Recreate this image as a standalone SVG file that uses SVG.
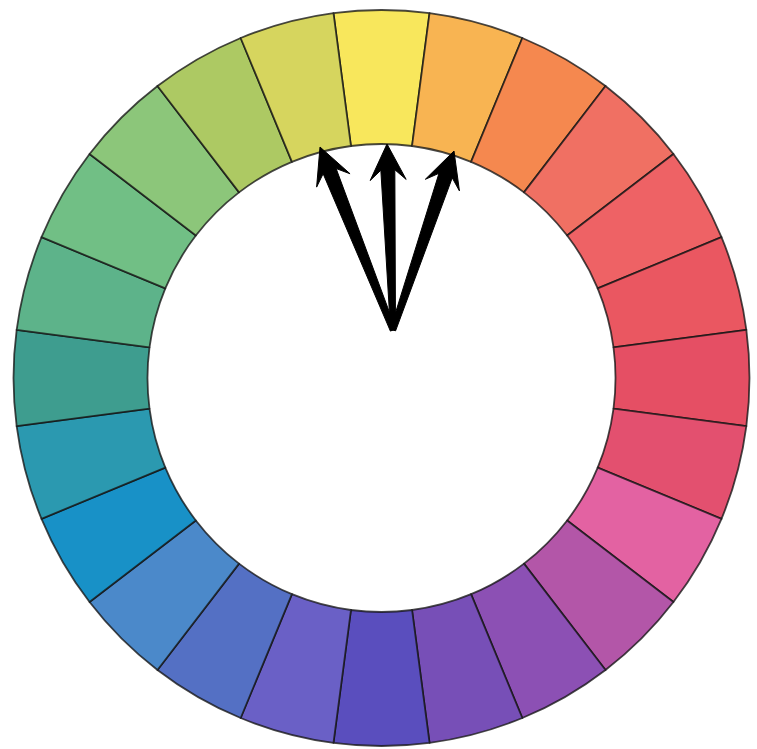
<svg xmlns="http://www.w3.org/2000/svg" width="757" height="749" viewBox="0 0 757 749">
  <style>
    .seg { stroke: #141414; stroke-opacity: 0.78; stroke-width: 1.8; stroke-linejoin: round; }
    .arrow { fill: #000; stroke: #000; stroke-width: 1; stroke-linejoin: miter; }
  </style>
  <defs>
    <path id="wedge" d="M -48.04 -364.85 A 368 368 0 0 1 48.04 -364.85 L 30.54 -232.00 A 234 234 0 0 0 -30.54 -232.00 Z"/>
  </defs>
  <rect width="757" height="749" fill="#ffffff"/>
  <g id="wheel" transform="translate(381.5,378)">
    <g id="seg-00"><use href="#wedge" class="seg" fill="#F8E75C" transform="rotate(0)"/></g>
    <g id="seg-01"><use href="#wedge" class="seg" fill="#F8B452" transform="rotate(15)"/></g>
    <g id="seg-02"><use href="#wedge" class="seg" fill="#F5884F" transform="rotate(30)"/></g>
    <g id="seg-03"><use href="#wedge" class="seg" fill="#F07063" transform="rotate(45)"/></g>
    <g id="seg-04"><use href="#wedge" class="seg" fill="#EE6265" transform="rotate(60)"/></g>
    <g id="seg-05"><use href="#wedge" class="seg" fill="#EA5761" transform="rotate(75)"/></g>
    <g id="seg-06"><use href="#wedge" class="seg" fill="#E54F64" transform="rotate(90)"/></g>
    <g id="seg-07"><use href="#wedge" class="seg" fill="#E3506F" transform="rotate(105)"/></g>
    <g id="seg-08"><use href="#wedge" class="seg" fill="#E362A2" transform="rotate(120)"/></g>
    <g id="seg-09"><use href="#wedge" class="seg" fill="#B356A8" transform="rotate(135)"/></g>
    <g id="seg-10"><use href="#wedge" class="seg" fill="#8C50B4" transform="rotate(150)"/></g>
    <g id="seg-11"><use href="#wedge" class="seg" fill="#774FB7" transform="rotate(165)"/></g>
    <g id="seg-12"><use href="#wedge" class="seg" fill="#5A4EBE" transform="rotate(180)"/></g>
    <g id="seg-13"><use href="#wedge" class="seg" fill="#6A60C6" transform="rotate(195)"/></g>
    <g id="seg-14"><use href="#wedge" class="seg" fill="#5470C4" transform="rotate(210)"/></g>
    <g id="seg-15"><use href="#wedge" class="seg" fill="#4B89CA" transform="rotate(225)"/></g>
    <g id="seg-16"><use href="#wedge" class="seg" fill="#1891C7" transform="rotate(240)"/></g>
    <g id="seg-17"><use href="#wedge" class="seg" fill="#2B99B0" transform="rotate(255)"/></g>
    <g id="seg-18"><use href="#wedge" class="seg" fill="#3E9D8F" transform="rotate(270)"/></g>
    <g id="seg-19"><use href="#wedge" class="seg" fill="#5DB38A" transform="rotate(285)"/></g>
    <g id="seg-20"><use href="#wedge" class="seg" fill="#71BF85" transform="rotate(300)"/></g>
    <g id="seg-21"><use href="#wedge" class="seg" fill="#8CC67A" transform="rotate(315)"/></g>
    <g id="seg-22"><use href="#wedge" class="seg" fill="#ADC963" transform="rotate(330)"/></g>
    <g id="seg-23"><use href="#wedge" class="seg" fill="#D6D55E" transform="rotate(345)"/></g>
  </g>
  <g id="connectors">
    <polygon class="arrow" points="320,147 350.06,173.77 336.14,168.56 395.6,328.9 390.4,331.1 323.14,173.74 316.62,187.11"/>
    <polygon class="arrow" points="387,144 406.15,179.40 394.84,169.76 395.5,329.9 390.5,330.1 380.84,170.22 370.17,180.56"/>
    <polygon class="arrow" points="454,151 459.43,190.89 452.24,177.87 395.6,330.8 390.4,329.2 438.98,173.35 425.35,179.27"/>
  </g>
</svg>
